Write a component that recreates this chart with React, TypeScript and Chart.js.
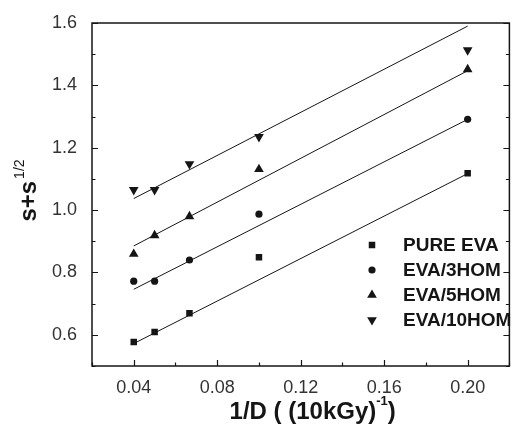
import React, { useEffect, useRef } from "react";
import { Chart, registerables } from "chart.js";

Chart.register(...registerables);

// 1/D values, (10 kGy)^-1
const xValues = [0.04, 0.05, 0.0667, 0.1, 0.2];
const pureEva = [0.577, 0.609, 0.669, 0.849, 1.118];
const eva3hom = [0.772, 0.772, 0.84, 0.987, 1.291];
const eva5hom = [0.859, 0.919, 0.98, 1.131, 1.451];
const eva10hom = [1.065, 1.065, 1.148, 1.235, 1.513];

// fitted lines (endpoints)
const fitX = [0.04, 0.2];
const pureFit = [0.572, 1.117];
const eva3Fit = [0.746, 1.291];
const eva5Fit = [0.885, 1.447];
const eva10Fit = [1.037, 1.59];

const seriesNames = ["PURE EVA", "EVA/3HOM", "EVA/5HOM", "EVA/10HOM"];
const xTickValuesLabelled = [0.04, 0.08, 0.12, 0.16, 0.2];
const yTickValuesLabelled = [0.6, 0.8, 1.0, 1.2, 1.4, 1.6];

const FONT = "'Liberation Sans', Arial, Helvetica, sans-serif";
const INK = "#151515";

const markerStyles = [
  { style: "rect", radius: 4.6, rotation: 0 },
  { style: "circle", radius: 3.6, rotation: 0 },
  { style: "triangle", radius: 5.6, rotation: 0 },
  { style: "triangle", radius: 5.6, rotation: 180 },
];

function drawMarker(ctx: CanvasRenderingContext2D, kind: number, x: number, y: number) {
  const m = markerStyles[kind];
  ctx.save();
  ctx.fillStyle = INK;
  ctx.beginPath();
  if (m.style === "rect") {
    const s = m.radius * Math.SQRT1_2;
    ctx.rect(x - s, y - s, 2 * s, 2 * s);
  } else if (m.style === "circle") {
    ctx.arc(x, y, m.radius, 0, Math.PI * 2);
  } else {
    const r = m.radius;
    const dir = m.rotation === 180 ? -1 : 1;
    ctx.moveTo(x, y - dir * r);
    ctx.lineTo(x + r * Math.cos(Math.PI / 6), y + dir * r * 0.5);
    ctx.lineTo(x - r * Math.cos(Math.PI / 6), y + dir * r * 0.5);
    ctx.closePath();
  }
  ctx.fill();
  ctx.restore();
}

const framePlugin = {
  id: "framePlugin",
  afterDraw(chart: any) {
    const { ctx, chartArea, scales } = chart;
    const { left, right, top, bottom } = chartArea;
    ctx.save();
    ctx.strokeStyle = INK;
    ctx.lineWidth = 1.5;
    ctx.strokeRect(left, top, right - left, bottom - top);

    ctx.lineWidth = 1.2;
    // x ticks (inward)
    scales.x.ticks.forEach((t: any) => {
      const k = Math.round(t.value * 100);
      const major = xTickValuesLabelled.some((v) => Math.round(v * 100) === k);
      const len = major ? 6 : 3.5;
      const px = Math.round(scales.x.getPixelForValue(t.value)) + 0.5;
      ctx.beginPath();
      ctx.moveTo(px, bottom);
      ctx.lineTo(px, bottom - len);
      ctx.stroke();
    });
    // y ticks left & right (inward)
    scales.y.ticks.forEach((t: any) => {
      const k = Math.round(t.value * 10);
      const major = yTickValuesLabelled.some((v) => Math.round(v * 10) === k);
      const len = major ? 6 : 3.5;
      const py = Math.round(scales.y.getPixelForValue(t.value)) + 0.5;
      ctx.beginPath();
      ctx.moveTo(left, py);
      ctx.lineTo(left + len, py);
      ctx.moveTo(right, py);
      ctx.lineTo(right - len, py);
      ctx.stroke();
    });

    // legend
    ctx.fillStyle = INK;
    ctx.font = `bold 19px ${FONT}`;
    ctx.textBaseline = "middle";
    ctx.textAlign = "left";
    seriesNames.forEach((name, i) => {
      const y = 245 + i * 25;
      drawMarker(ctx, i, 372, y);
      ctx.fillText(name, 403, y + 1);
    });

    // x-axis title: 1/D ( (10kGy)^-1 )
    const mainX = `bold 24px ${FONT}`;
    const supX = `bold 13px ${FONT}`;
    ctx.textBaseline = "alphabetic";
    ctx.font = mainX;
    const p1 = "1/D ( (10kGy)";
    const p3 = ")";
    const w1 = ctx.measureText(p1).width;
    const w3 = ctx.measureText(p3).width;
    ctx.font = supX;
    const p2 = "-1";
    const w2 = ctx.measureText(p2).width;
    const total = w1 + w2 + w3;
    const cx = (left + right) / 2 + 12;
    let sx = cx - total / 2;
    const base = 419;
    ctx.font = mainX;
    ctx.fillText(p1, sx, base);
    sx += w1;
    ctx.font = supX;
    ctx.fillText(p2, sx, base - 14);
    sx += w2;
    ctx.font = mainX;
    ctx.fillText(p3, sx, base);

    // y-axis title: s+s^1/2 (rotated)
    ctx.save();
    const cy = (top + bottom) / 2 - 4;
    ctx.translate(36, cy);
    ctx.rotate(-Math.PI / 2);
    const mainY = `bold 24px ${FONT}`;
    const supY = `14px ${FONT}`;
    ctx.font = mainY;
    const q1 = "s+s";
    const v1 = ctx.measureText(q1).width;
    ctx.font = supY;
    const q2 = "1/2";
    const v2 = ctx.measureText(q2).width;
    let ty = -(v1 + v2 + 2) / 2;
    ctx.font = mainY;
    ctx.fillText(q1, ty, 0);
    ty += v1 + 2;
    ctx.font = supY;
    ctx.fillText(q2, ty, -12);
    ctx.restore();

    ctx.restore();
  },
};

export default function App() {
  const canvasRef = useRef<HTMLCanvasElement | null>(null);

  useEffect(() => {
    if (!canvasRef.current) return;
    const series = [pureEva, eva3hom, eva5hom, eva10hom];
    const fits = [pureFit, eva3Fit, eva5Fit, eva10Fit];

    const lineSets = fits.map((f, i) => ({
      label: seriesNames[i] + " fit",
      data: fitX.map((x, j) => ({ x, y: f[j] })),
      showLine: true,
      borderColor: INK,
      borderWidth: 1,
      pointRadius: 0,
      fill: false,
      order: 2,
    }));
    const pointSets = series.map((s, i) => ({
      label: seriesNames[i],
      data: xValues.map((x, j) => ({ x, y: s[j] })),
      showLine: false,
      pointStyle: markerStyles[i].style,
      pointRadius: markerStyles[i].radius,
      pointRotation: markerStyles[i].rotation,
      backgroundColor: INK,
      borderColor: INK,
      borderWidth: 0,
      order: 1,
    }));

    const chart = new Chart(canvasRef.current, {
      type: "scatter",
      data: { datasets: [...lineSets, ...pointSets] as any },
      options: {
        responsive: false,
        animation: false,
        events: [],
        layout: { padding: { left: 0, top: 23, right: 2, bottom: 0 } },
        plugins: { legend: { display: false }, tooltip: { enabled: false } },
        scales: {
          x: {
            type: "linear",
            min: 0.02,
            max: 0.22,
            afterFit: (s: any) => {
              s.height = 61;
            },
            grid: { display: false },
            border: { display: false },
            ticks: {
              stepSize: 0.02,
              autoSkip: false,
              maxRotation: 0,
              padding: 3,
              color: "#333",
              font: { family: FONT, size: 18 },
              callback: (v: any) => {
                const k = Math.round(Number(v) * 100);
                return xTickValuesLabelled.some((t) => Math.round(t * 100) === k)
                  ? (k / 100).toFixed(2)
                  : "";
              },
            },
          },
          y: {
            type: "linear",
            min: 0.5,
            max: 1.6,
            afterFit: (s: any) => {
              s.width = 92;
            },
            grid: { display: false },
            border: { display: false },
            ticks: {
              stepSize: 0.1,
              autoSkip: false,
              padding: 7,
              color: "#333",
              font: { family: FONT, size: 18 },
              callback: (v: any) => {
                const k = Math.round(Number(v) * 10);
                return yTickValuesLabelled.some((t) => Math.round(t * 10) === k)
                  ? (k / 10).toFixed(1)
                  : "";
              },
            },
          },
        },
      },
      plugins: [framePlugin],
    });
    return () => chart.destroy();
  }, []);

  return (
    <div style={{ position: "absolute", left: 0, top: 0, width: 515, height: 427, background: "#fff" }}>
      <canvas ref={canvasRef} width={515} height={427} style={{ display: "block" }} />
    </div>
  );
}
